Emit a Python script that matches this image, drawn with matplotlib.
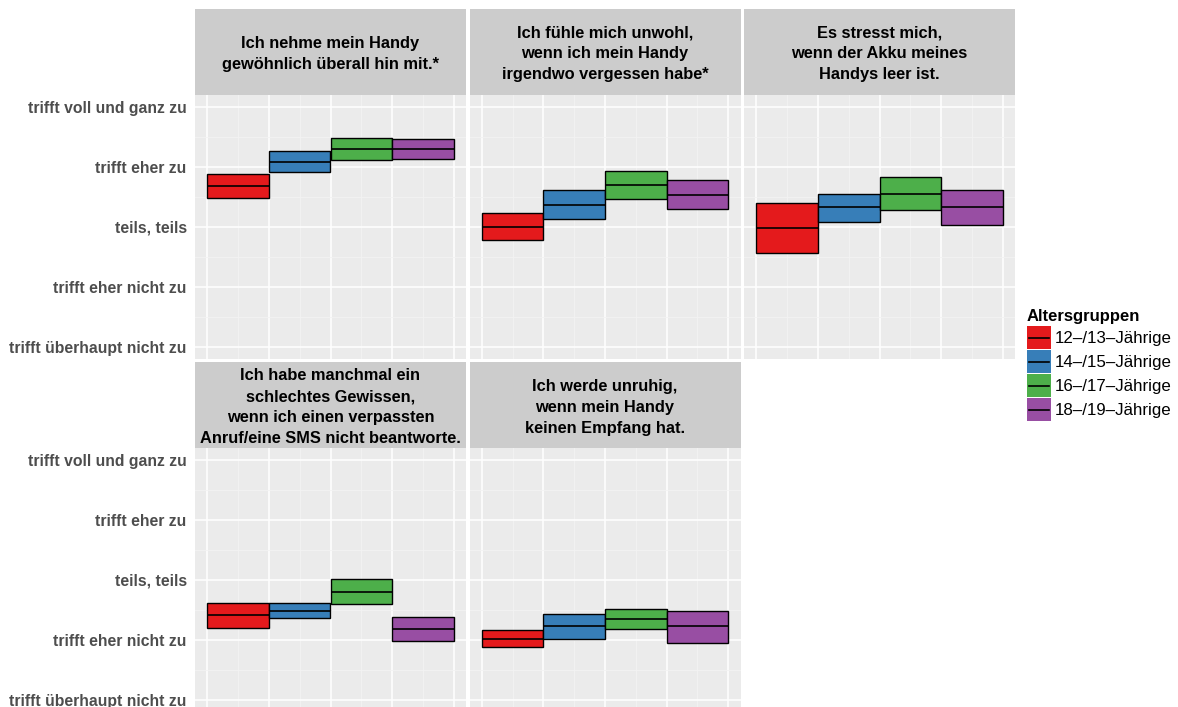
import matplotlib
matplotlib.use("Agg")
import matplotlib.pyplot as plt
from matplotlib.patches import Rectangle
import numpy as np

plt.rcParams['font.family'] = ['Liberation Sans', 'DejaVu Sans']

# statements (facet titles)
statements = [
    "Ich nehme mein Handy\ngewöhnlich überall hin mit.*",
    "Ich fühle mich unwohl,\nwenn ich mein Handy\nirgendwo vergessen habe*",
    "Es stresst mich,\nwenn der Akku meines\nHandys leer ist.",
    "Ich habe manchmal ein\nschlechtes Gewissen,\nwenn ich einen verpassten\nAnruf/eine SMS nicht beantworte.",
    "Ich werde unruhig,\nwenn mein Handy\nkeinen Empfang hat.",
]
groups = ["12\u2013/13\u2013Jährige", "14\u2013/15\u2013Jährige",
          "16\u2013/17\u2013Jährige", "18\u2013/19\u2013Jährige"]
colors = ["#E41A1C", "#377EB8", "#4DAF4A", "#984EA3"]
scale_labels = ["trifft überhaupt nicht zu", "trifft eher nicht zu",
                "teils, teils", "trifft eher zu", "trifft voll und ganz zu"]

# crossbar values per statement: lower, mean, upper (one entry per age group)
lower = [
    [3.47, 3.91, 4.11, 4.13],
    [2.77, 3.12, 3.46, 3.29],
    [2.56, 3.08, 3.27, 3.03],
    [2.20, 2.36, 2.60, 1.98],
    [1.87, 2.01, 2.18, 1.95],
]
mean = [
    [3.68, 4.08, 4.29, 4.30],
    [3.00, 3.36, 3.69, 3.53],
    [2.98, 3.32, 3.55, 3.32],
    [2.41, 2.48, 2.80, 2.18],
    [2.01, 2.22, 2.34, 2.22],
]
upper = [
    [3.88, 4.26, 4.47, 4.47],
    [3.23, 3.61, 3.93, 3.77],
    [3.40, 3.55, 3.82, 3.61],
    [2.61, 2.61, 3.01, 2.38],
    [2.16, 2.43, 2.51, 2.48],
]

W, H = 1178, 707
fig = plt.figure(figsize=(W / 100, H / 100), dpi=100)


def px_axes(x0, y0, x1, y1):
    # pixel box (top-left origin) -> figure axes
    return fig.add_axes([x0 / W, 1 - y1 / H, (x1 - x0) / W, (y1 - y0) / H])


col_x = [195, 469.5, 744]
pw = 271
rows = [(9, 94.7, 358.7), (362, 448, 711.5)]
x = np.arange(1, 5)

for i, title in enumerate(statements):
    r, c = divmod(i, 3)
    s0, p0, p1 = rows[r]
    x0 = col_x[c]

    # strip
    sax = px_axes(x0, s0, x0 + pw, p0)
    sax.set_facecolor("#CCCCCC")
    sax.set_xticks([])
    sax.set_yticks([])
    for sp in sax.spines.values():
        sp.set_visible(False)
    sax.text(0.5, 0.475, title, ha="center", va="center", fontsize=11.8,
             fontweight="bold", linespacing=1.5, transform=sax.transAxes)

    ax = px_axes(x0, p0, x0 + pw, p1)
    ax.set_facecolor("#EBEBEB")
    for sp in ax.spines.values():
        sp.set_visible(False)
    ax.set_xlim(0.3, 4.7)
    ax.set_ylim(0.8, 5.2)
    ax.set_xticks(np.arange(0.5, 5, 1))
    ax.set_xticks(np.arange(1, 5, 1), minor=True)
    ax.set_yticks(np.arange(1, 6))
    ax.set_yticks(np.arange(1.5, 5, 1), minor=True)
    ax.grid(which="major", color="white", linewidth=1.1)
    ax.grid(which="minor", color="#F3F3F3", linewidth=0.6)
    ax.set_axisbelow(True)
    ax.tick_params(which="both", length=0)
    ax.set_xticklabels([])
    if c == 0:
        ax.set_yticklabels(scale_labels, fontsize=11.3, fontweight="bold",
                           color="#4D4D4D")
        ax.tick_params(axis="y", pad=6)
    else:
        ax.set_yticklabels([])

    lo = np.array(lower[i])
    hi = np.array(upper[i])
    ax.bar(x, hi - lo, bottom=lo, width=1, color=colors,
           edgecolor="black", linewidth=1.0, zorder=3)
    ax.hlines(mean[i], x - 0.5, x + 0.5, color="black", linewidth=1.2,
              zorder=4)

# legend
fig.text(1027 / W, 1 - 316 / H, "Altersgruppen", fontsize=12,
         fontweight="bold", ha="left", va="center")
lax = px_axes(1026.7, 326, 1178, 421)
lax.set_xlim(0, 151.3)
lax.set_ylim(95, 0)
lax.axis("off")
for k, (g, col) in enumerate(zip(groups, colors)):
    y0 = k * 24
    lax.add_patch(Rectangle((0, y0), 24.3, 23, facecolor=col,
                            edgecolor="none"))
    lax.plot([2, 22], [y0 + 11.5, y0 + 11.5], color="black", linewidth=1.2)
    lax.text(28.5, y0 + 12, g, fontsize=12.2, ha="left", va="center")

fig.savefig("out.png", dpi=100)
